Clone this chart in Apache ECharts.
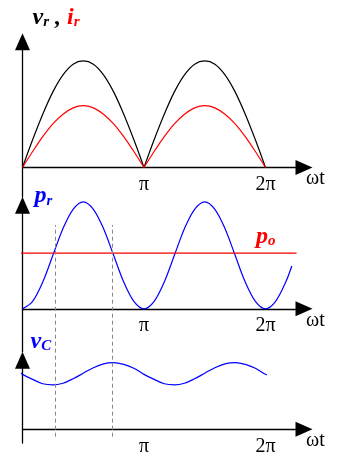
<!DOCTYPE html>
<html><head><meta charset="utf-8">
<script src="https://cdn.jsdelivr.net/npm/echarts@6/dist/echarts.min.js"></script>
<style>html,body{margin:0;padding:0;background:#fff}#c{width:346px;height:472px}</style>
</head><body><div id="c"></div>
<script>
// angles in degrees (0..360 = 0..2π)
const deg = [0,15,30,45,60,75,90,105,120,135,150,165,180,195,210,225,240,255,270,285,300,315,330,345,360];
const vr = [0,0.26,0.50,0.71,0.87,0.97,1.00,0.97,0.87,0.71,0.50,0.26,0,0.26,0.50,0.71,0.87,0.97,1.00,0.97,0.87,0.71,0.50,0.26,0];
const ir = [0,0.15,0.29,0.41,0.50,0.56,0.58,0.56,0.50,0.41,0.29,0.15,0,0.15,0.29,0.41,0.50,0.56,0.58,0.56,0.50,0.41,0.29,0.15,0];
const prDeg = [0,15,30,45,60,75,90,105,120,135,150,165,180,195,210,225,240,255,270,285,300,315,330,345,360,375,390,399];
const pr = [0,0.07,0.25,0.50,0.75,0.93,1.00,0.93,0.75,0.50,0.25,0.07,0,0.07,0.25,0.50,0.75,0.93,1.00,0.93,0.75,0.50,0.25,0.07,0,0.07,0.25,0.40];
const poValue = 0.52;
const poDeg = [-5.2, 406];
const vcDeg = [-4.5,0,15,30,45,60,75,90,105,120,135,150,165,180,195,210,225,240,255,270,285,300,315,330,345,360,362];
const vc = [1.03,0.99,0.90,0.82,0.80,0.83,0.91,1.01,1.11,1.18,1.20,1.17,1.10,0.99,0.90,0.82,0.80,0.83,0.91,1.01,1.11,1.18,1.20,1.17,1.10,0.99,0.98];
const crossDeg = [48.1, 133.6];
const tickLabels = {1: 'π', 2: '2π'};

const X_MAX = 2.3169;
const SERIF = 'Liberation Serif';
const toPi = d => d / 180;
const pairs = (xs, ys) => xs.map((d, i) => [toPi(d), ys[i]]);

const panels = [
  {top: 41.8, height: 155.2, min: -0.277, max: 1.18},
  {top: 205.2, height: 146.5, min: -0.401, max: 0.968},
  {top: 360.2, height: 82.8, min: -0.247, max: 1.245}
];

function arches(values, color) {
  const cusp = deg.indexOf(180);
  const segs = [[0, cusp], [cusp, deg.length - 1]];
  return segs.map(([a, b]) => ({
    type: 'line', xAxisIndex: 0, yAxisIndex: 0, smooth: 0.33, showSymbol: false, silent: true,
    lineStyle: {color, width: 1.2},
    data: pairs(deg.slice(a, b + 1), values.slice(a, b + 1))
  }));
}

const mainTxt = (color) => ({fontFamily: SERIF, fontWeight: 'bold', fontStyle: 'italic', fontSize: 24, lineHeight: 24, color});
const subTxt = (color, lh) => ({fontFamily: SERIF, fontWeight: 'bold', fontStyle: 'italic', fontSize: 15, lineHeight: lh, verticalAlign: 'bottom', color});

function xAxis(gi) {
  const p = panels[gi];
  const zeroFromBottom = p.height * (0 - p.min) / (p.max - p.min);
  return {
    type: 'value', gridIndex: gi, min: 0, max: X_MAX, interval: 1, position: 'bottom', offset: -zeroFromBottom,
    axisLine: {show: true, onZero: false, symbol: ['none', 'triangle'], symbolSize: [15, 17], lineStyle: {color: '#000', width: 1.3}},
    axisTick: {show: false}, splitLine: {show: false},
    axisLabel: {show: true, margin: 7, formatter: v => tickLabels[v] || '', fontFamily: SERIF, fontSize: 20, color: '#000'},
    name: 'ωt', nameLocation: 'end', nameGap: 2,
    nameTextStyle: {fontFamily: SERIF, fontSize: 20, lineHeight: 20, color: '#000', align: 'left', verticalAlign: 'top', padding: [1.5, 0, 0, 0]}
  };
}
function yAxis(gi, name, gap, padLeft, rich) {
  const p = panels[gi];
  return {
    type: 'value', gridIndex: gi, min: p.min, max: p.max,
    axisLine: {show: true, onZero: false, symbol: ['none', 'triangle'], symbolSize: [15, 17], lineStyle: {color: '#000', width: 1.3}},
    axisTick: {show: false}, splitLine: {show: false}, axisLabel: {show: false},
    name, nameLocation: 'end', nameGap: gap,
    nameTextStyle: {align: 'left', verticalAlign: 'middle', padding: [0, 0, 0, padLeft], rich}
  };
}

const chart = echarts.init(document.getElementById('c'), null, {renderer: 'canvas'});
chart.setOption({
  animation: false,
  backgroundColor: '#fff',
  grid: panels.map(p => ({left: 22.5, top: p.top, width: 281.5, height: p.height, outerBoundsMode: 'none'}))
    .concat([{left: 22.5, top: 225, width: 281.5, height: 211.7, outerBoundsMode: 'none'}]),
  xAxis: [xAxis(0), xAxis(1), xAxis(2),
    {type: 'value', gridIndex: 3, min: 0, max: X_MAX, show: false}],
  yAxis: [
    yAxis(0, '{v|v}{vs|r}{k| , }{i|i}{is|r}', 24, 10,
      {v: mainTxt('#000'), vs: subTxt('#000', 15.6), k: mainTxt('#000'), i: mainTxt('#ff0000'), is: subTxt('#ff0000', 15.6)}),
    yAxis(1, '{p|p}{s|r}', 9, 12,
      {p: mainTxt('#0000ff'), s: subTxt('#0000ff', 12.6)}),
    yAxis(2, '{v|v}{s|C}', 18.5, 8,
      {v: mainTxt('#0000ff'), s: subTxt('#0000ff', 9.8)}),
    {type: 'value', gridIndex: 3, min: 0, max: 1, show: false}
  ],
  series: [
    {
      type: 'line', xAxisIndex: 3, yAxisIndex: 3, data: [], silent: true,
      markLine: {
        silent: true, symbol: ['none', 'none'], label: {show: false},
        lineStyle: {type: [4, 3], color: '#888', width: 1},
        data: crossDeg.map(d => ({xAxis: toPi(d)}))
      }
    },
    ...arches(vr, '#000'),
    ...arches(ir, '#ff0000'),
    {
      type: 'line', xAxisIndex: 1, yAxisIndex: 1, smooth: 0.33, showSymbol: false, silent: true, clip: false,
      lineStyle: {color: '#0000ff', width: 1.2},
      data: pairs(prDeg, pr)
    },
    {
      type: 'line', xAxisIndex: 1, yAxisIndex: 1, showSymbol: false, silent: true, clip: false,
      lineStyle: {color: '#ff0000', width: 1.2},
      data: poDeg.map(d => [toPi(d), poValue]),
      endLabel: {
        show: true, align: 'right', verticalAlign: 'middle', distance: 5, offset: [-26, -16.5],
        formatter: '{p|p}{s|o}',
        rich: {p: mainTxt('#ff0000'), s: subTxt('#ff0000', 13.6)}
      }
    },
    {
      type: 'line', xAxisIndex: 2, yAxisIndex: 2, smooth: 0.33, showSymbol: false, silent: true, clip: false,
      lineStyle: {color: '#0000ff', width: 1.2},
      data: pairs(vcDeg, vc)
    }
  ]
});
</script>
</body></html>
